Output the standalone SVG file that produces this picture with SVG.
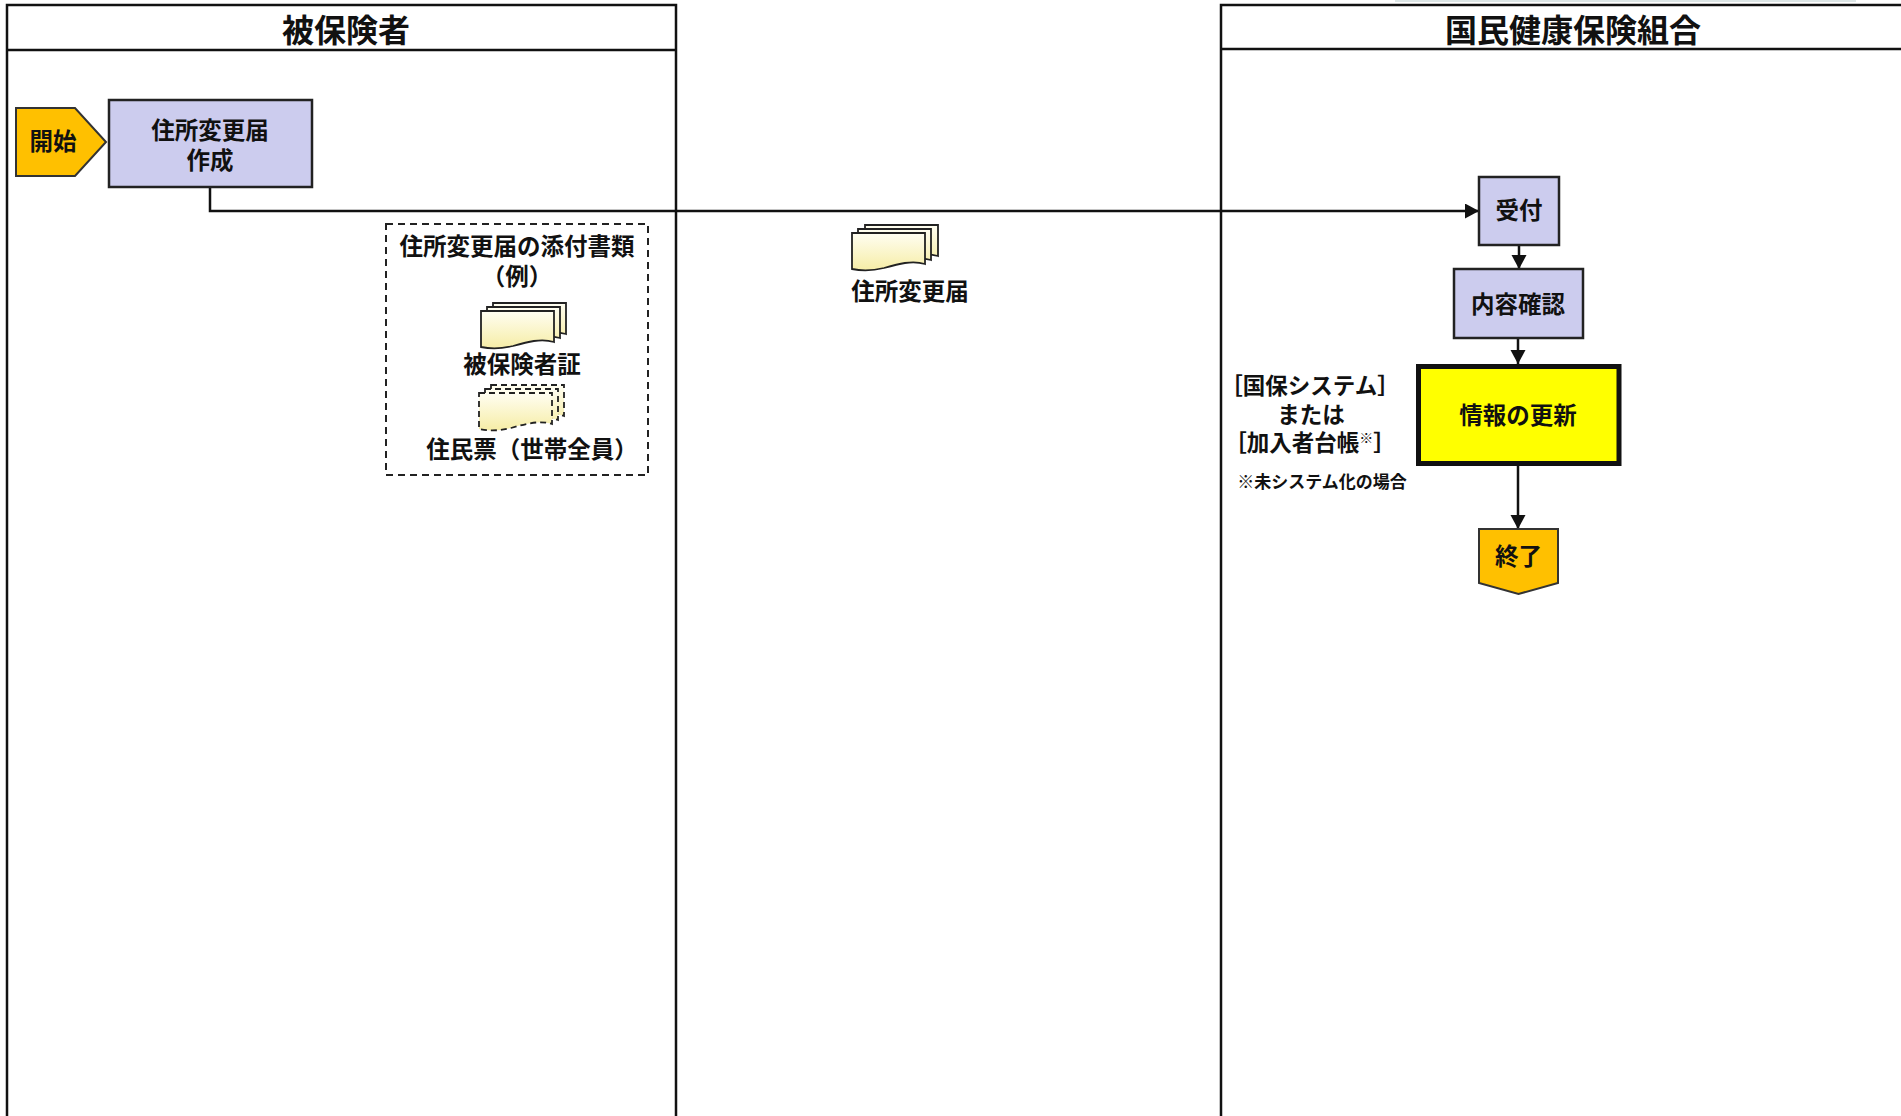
<svg xmlns="http://www.w3.org/2000/svg" width="1901" height="1116" viewBox="0 0 1901 1116">
<style>
text{font-family:"Noto Sans CJK JP","Noto Sans CJK SC",sans-serif;font-weight:bold;fill:#111;text-anchor:middle}
.lane{fill:none;stroke:#111;stroke-width:2.5}
.title{font-size:32px}
.t{font-size:23.5px}
.s{font-size:22.5px}
.xs{font-size:17px}
.proc{fill:#CCCCEE;stroke:#222;stroke-width:2.5}
.term{fill:#FFC000;stroke:#333;stroke-width:2}
.conn{fill:none;stroke:#111;stroke-width:2.5}
.pg{fill:url(#docg);stroke:#222;stroke-width:1.8}
.pgd{fill:url(#docg);stroke:#222;stroke-width:1.8;stroke-dasharray:6 4}
</style>
<defs>
<linearGradient id="docg" x1="0" y1="0" x2="0" y2="1">
<stop offset="0" stop-color="#FFFEF2"/>
<stop offset="1" stop-color="#F6EDA6"/>
</linearGradient>
<marker id="arr" markerUnits="userSpaceOnUse" markerWidth="16" markerHeight="16" refX="14" refY="7.5" orient="auto">
<path d="M0,0 L14,7.5 L0,15 Z" fill="#111"/>
</marker>
<path id="page" d="M0,0 H73 V31 C60,27 46,31 32,35 C20,38 9,38 0,36 Z"/>
</defs>
<rect x="1395" y="0" width="461" height="2" fill="#DDE6E6"/>
<g id="lane-hihokensha">
<path class="lane" d="M7,1120 V5 H676 V1120"/>
<path class="lane" d="M7,50 H676"/>
<text class="title" x="346" y="42">被保険者</text>
</g>
<g id="lane-kumiai">
<path class="lane" d="M1221,1120 V5 H1905"/>
<path class="lane" d="M1221,49 H1905"/>
<text class="title" x="1573" y="42">国民健康保険組合</text>
</g>
<g id="connectors">
<path class="conn" d="M210,187 V211 H1479" marker-end="url(#arr)"/>
<path class="conn" d="M1519,245 V269" marker-end="url(#arr)"/>
<path class="conn" d="M1518,338 V364" marker-end="url(#arr)"/>
<path class="conn" d="M1518,466 V529" marker-end="url(#arr)"/>
</g>
<g id="start">
<path class="term" d="M16,108 H75 L106,142 L75,176 H16 Z"/>
<text class="t" x="53" y="150">開始</text>
</g>
<g id="sakusei">
<rect class="proc" x="109" y="100" width="203" height="87"/>
<text class="t" x="210" y="139">住所変更届</text>
<text class="t" x="210" y="169">作成</text>
</g>
<g id="attachments">
<rect x="386" y="224" width="262" height="251" fill="none" stroke="#222" stroke-width="2" stroke-dasharray="7 5"/>
<text class="t" x="517" y="255">住所変更届の添付書類</text>
<text class="t" x="517" y="285">（例）</text>
<g id="doc-hihokenshasho">
<use href="#page" class="pg" x="493" y="303"/>
<use href="#page" class="pg" x="487" y="307"/>
<use href="#page" class="pg" x="481" y="311"/>
<text class="t" x="522" y="373">被保険者証</text>
</g>
<g id="doc-juminhyo">
<use href="#page" class="pgd" x="491" y="385"/>
<use href="#page" class="pgd" x="485" y="389"/>
<use href="#page" class="pgd" x="479" y="393"/>
<text class="t" x="532" y="458">住民票（世帯全員）</text>
</g>
</g>
<g id="doc-todoke">
<use href="#page" class="pg" x="865" y="225"/>
<use href="#page" class="pg" x="858" y="229"/>
<use href="#page" class="pg" x="852" y="233"/>
<text class="t" x="910" y="300">住所変更届</text>
</g>
<g id="uketsuke">
<rect class="proc" x="1479" y="177" width="80" height="68"/>
<text class="t" x="1519" y="219">受付</text>
</g>
<g id="naiyo">
<rect class="proc" x="1454" y="269" width="129" height="69"/>
<text class="t" x="1518" y="313">内容確認</text>
</g>
<g id="koshin">
<rect x="1418.5" y="366.5" width="200.5" height="97" fill="#FFFF00" stroke="#111" stroke-width="5"/>
<text class="t" x="1518" y="424">情報の更新</text>
</g>
<g id="system-note">
<text class="s" x="1310" y="394">［国保システム］</text>
<text class="s" x="1311" y="423">または</text>
<text class="s" x="1310" y="451">［加入者台帳<tspan font-size="14px" dy="-8">※</tspan><tspan dy="8">］</tspan></text>
<text class="xs" x="1322" y="488">※未システム化の場合</text>
</g>
<g id="end">
<path class="term" d="M1479,529 H1558 V583 L1518.5,594 L1479,583 Z"/>
<text class="t" x="1518.5" y="565">終了</text>
</g>
</svg>
